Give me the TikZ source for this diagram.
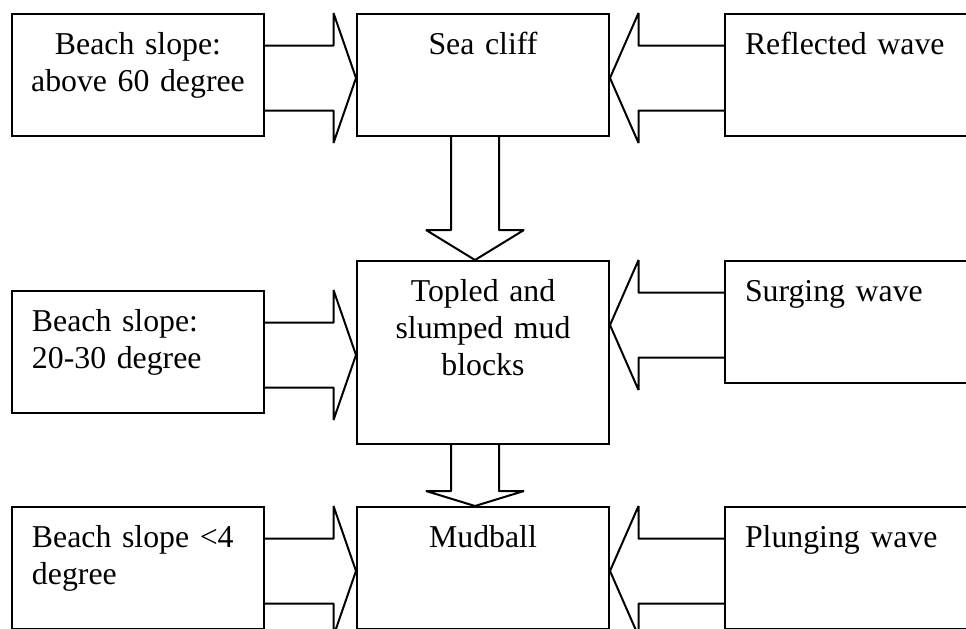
\documentclass[tikz,border=0pt]{standalone}
\usepackage{fontspec}
\setmainfont{Liberation Serif}
\usetikzlibrary{
  positioning,
  calc
}
% hollow block arrow: tail, tip, shaft half width, head half width, head length
\newcommand{\blockarrow}[5]{%
  \coordinate (ba-t) at #1;
  \coordinate (ba-p) at #2;
  \coordinate (ba-h) at ($(ba-p)!#5!(ba-t)$);
  \draw[blockline]
    ($(ba-t)!#3!90:(ba-p)$) -- ($(ba-h)!#3!90:(ba-p)$)
    -- ($(ba-h)!#4!90:(ba-p)$) -- (ba-p)
    -- ($(ba-h)!#4!-90:(ba-p)$) -- ($(ba-h)!#3!-90:(ba-p)$)
    -- ($(ba-t)!#3!-90:(ba-p)$);}
\tikzset{
  box/.style={
    draw, line width=1pt,
    inner xsep=10pt, inner ysep=0pt,
    text width=106pt, text height=20pt, text depth=41pt,
    font=\fontsize{15.9pt}{18.5pt}\selectfont
  },
  causebox/.style={box, align=left},
  stagebox/.style={box, align=center},
  wavebox/.style={box, align=left},
  blockline/.style={draw, line width=1pt, line join=bevel},
}

\begin{document}
\begin{tikzpicture}

  \useasboundingbox (0,0) rectangle (483pt,-314pt);
  \clip (0,0) rectangle (483pt,-314pt);

  %% Beach slope (left column)
  \node[causebox, align=center, inner xsep=3pt, text width=120pt,
        anchor=north west] (slope60) at (5.5pt,-6.5pt)
    {Beach slope:\\above 60 degree};
  \node[causebox, below=76.5pt of slope60] (slope20)
    {Beach slope:\\20-30 degree};
  \node[causebox, below=46pt of slope20] (slope4)
    {Beach slope <4\\degree};

  %% Erosion stages (middle column)
  \node[stagebox, right=45.5pt of slope60] (cliff) {Sea cliff};
  \node[stagebox, below=61.5pt of cliff, text depth=71.5pt] (blocks)
    {Topled and\\slumped mud\\blocks};
  \node[stagebox, below=30.5pt of blocks] (mudball) {Mudball};

  %% Wave types (right column)
  \node[wavebox, right=57pt of cliff] (reflected) {Reflected wave};
  \node[wavebox, below=61.5pt of reflected] (surging) {Surging wave};
  \node[wavebox, below=61pt of surging] (plunging) {Plunging wave};

  %% slope -> stage
  \blockarrow{([yshift=-32.5pt]slope60.north east)}
    {($(cliff.west |- slope60.north)+(0,-32.5pt)$)}{16.25pt}{32.5pt}{11.25pt}
  \blockarrow{([yshift=-32.5pt]slope20.north east)}
    {($(blocks.west |- slope20.north)+(0,-32.5pt)$)}{16.25pt}{32.5pt}{11.25pt}
  \blockarrow{([yshift=-32.5pt]slope4.north east)}
    {($(mudball.west |- slope4.north)+(0,-32.5pt)$)}{16.25pt}{32.5pt}{11.25pt}

  %% wave -> stage
  \blockarrow{([yshift=-32.5pt]reflected.north west)}
    {($(cliff.east |- reflected.north)+(0,-32.5pt)$)}{16.25pt}{32.5pt}{14.25pt}
  \blockarrow{([yshift=-32.5pt]surging.north west)}
    {($(blocks.east |- surging.north)+(0,-32.5pt)$)}{16.25pt}{32.5pt}{14.25pt}
  \blockarrow{([yshift=-32.5pt]plunging.north west)}
    {($(mudball.east |- plunging.north)+(0,-32.5pt)$)}{16.25pt}{32.5pt}{14.25pt}

  %% stage -> next stage
  \blockarrow{([xshift=-4pt]cliff.south)}
    {([xshift=-4pt]blocks.north)}{12pt}{24.5pt}{15pt}
  \blockarrow{([xshift=-4pt]blocks.south)}
    {([xshift=-4pt]mudball.north)}{12pt}{24.5pt}{7.5pt}

\end{tikzpicture}
\end{document}
